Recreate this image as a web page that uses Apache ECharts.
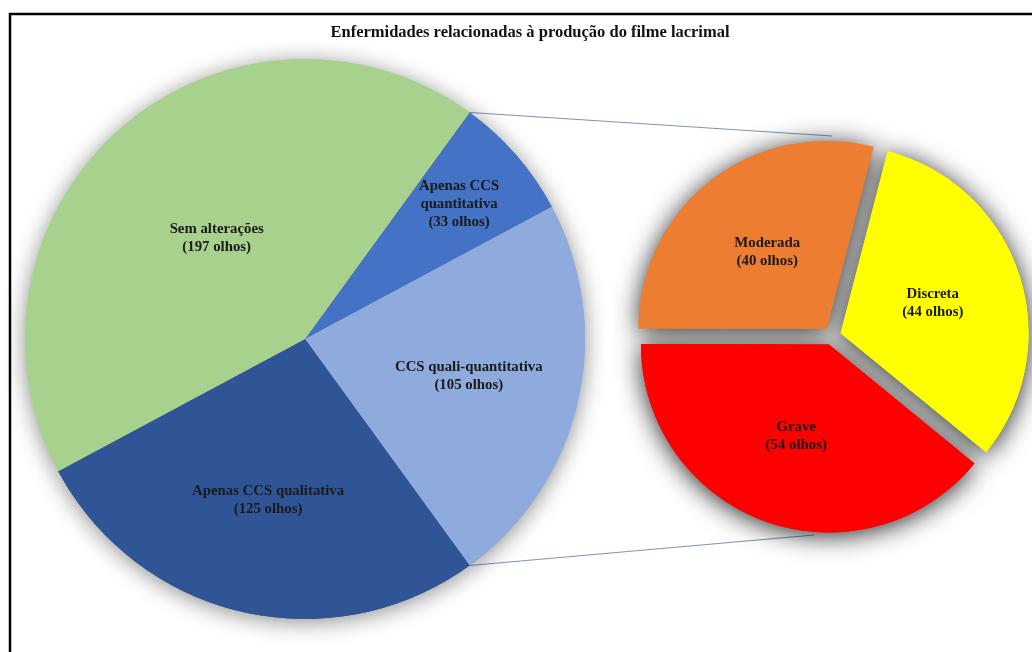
<!DOCTYPE html>
<html>
<head>
<meta charset="utf-8">
<script src="https://cdn.jsdelivr.net/npm/echarts@6/dist/echarts.min.js"></script>
<style>
  html, body { margin: 0; padding: 0; background: #ffffff; }
  #chart { width: 1032px; height: 652px; }
</style>
</head>
<body>
<div id="chart"></div>
<script>
// Main pie: eyes grouped by tear film exam result
const mainNames = ['Apenas CCS\nquantitativa', 'CCS quali-quantitativa', 'Apenas CCS qualitativa', 'Sem alterações'];
const mainValues = [33, 105, 125, 197];
const mainColors = ['#4472c4', '#8faadc', '#2f5597', '#a9d18e'];
// how many of the first main slices are broken down in the secondary pie
const splitCount = 2;

// Secondary pie: severity of the split group
const subNames = ['Discreta', 'Grave', 'Moderada'];
const subValues = [44, 54, 40];
const subColors = ['#ffff00', '#ff0000', '#ed7d31'];

const titleText = 'Enfermidades relacionadas à produção do filme lacrimal';

// Layout
const MAIN_C = [305, 339], MAIN_R = 280;
const SUB_C = [832, 336], SUB_R = 188, SUB_OFFSET = 9, SUB_START = 75.5;
// radial position of each main label, as a fraction of the radius
const mainLabelFrac = [0.73, 0.60, 0.59, 0.48];
const FONT = '"Liberation Serif", "Times New Roman", serif';
const TEXT_COLOR = '#1a1a1a';

const total = mainValues.reduce((a, b) => a + b, 0);
const splitSum = mainValues.slice(0, splitCount).reduce((a, b) => a + b, 0);
const splitAngle = splitSum / total * 360;
// split group is centred on the 3 o'clock direction
const mainStart = splitAngle / 2;

// mid angle (math degrees) of each main slice
const mainMid = [];
{
  let a = mainStart;
  mainValues.forEach(v => {
    const span = v / total * 360;
    mainMid.push(a - span / 2);
    a -= span;
  });
}
const rad = d => d * Math.PI / 180;

const mainData = mainValues.map((v, i) => ({ name: mainNames[i], value: v }));
const subData = subValues.map((v, i) => ({ name: subNames[i], value: v, selected: true }));

const labelStyle = {
  show: true,
  position: 'inside',
  formatter: p => p.name + '\n(' + p.value + ' olhos)',
  fontFamily: FONT,
  fontWeight: 'bold',
  fontSize: 14.8,
  lineHeight: 18,
  color: TEXT_COLOR
};

// connector lines from the split group's edges to the secondary pie
const topA = rad(mainStart), botA = rad(mainStart - splitAngle);
const pTop = [MAIN_C[0] + MAIN_R * Math.cos(topA), MAIN_C[1] - MAIN_R * Math.sin(topA)];
const pBot = [MAIN_C[0] + MAIN_R * Math.cos(botA), MAIN_C[1] - MAIN_R * Math.sin(botA)];
const qTop = [SUB_C[0], SUB_C[1] - SUB_R - 12];
const qBot = [SUB_C[0] - 18, SUB_C[1] + SUB_R + 11];

const chart = echarts.init(document.getElementById('chart'), null, { renderer: 'canvas' });

chart.setOption({
  animation: false,
  backgroundColor: '#ffffff',
  graphic: [
    {
      type: 'rect', z: 0,
      shape: { x: 10, y: 14, width: 1100, height: 700 },
      style: { fill: 'none', stroke: '#000000', lineWidth: 2.5 }
    },
    {
      type: 'text', z: 10,
      style: {
        text: titleText, x: 530, y: 33,
        textAlign: 'center', textVerticalAlign: 'middle',
        font: 'bold 16.5px ' + FONT, fill: '#111111'
      }
    },
    {
      type: 'line', z: 0,
      shape: { x1: pTop[0], y1: pTop[1], x2: qTop[0], y2: qTop[1] },
      style: { stroke: '#7f93b4', lineWidth: 1 }
    },
    {
      type: 'line', z: 0,
      shape: { x1: pBot[0], y1: pBot[1], x2: qBot[0], y2: qBot[1] },
      style: { stroke: '#7f93b4', lineWidth: 1 }
    }
  ],
  series: [
    // soft shadow under the main pie
    {
      type: 'pie', silent: true, z: 1,
      center: MAIN_C, radius: MAIN_R, startAngle: mainStart,
      color: mainColors, data: mainData,
      label: { show: false }, labelLine: { show: false },
      itemStyle: { shadowBlur: 22, shadowColor: 'rgba(0,0,0,0.45)', shadowOffsetY: 3 }
    },
    {
      type: 'pie', z: 2,
      center: MAIN_C, radius: MAIN_R, startAngle: mainStart,
      color: mainColors, data: mainData,
      label: labelStyle, labelLine: { show: false },
      emphasis: { disabled: true },
      labelLayout: p => {
        const i = p.dataIndex;
        const a = rad(mainMid[i]);
        const r = MAIN_R * mainLabelFrac[i];
        return {
          x: MAIN_C[0] + r * Math.cos(a),
          y: MAIN_C[1] - r * Math.sin(a),
          align: 'center', verticalAlign: 'middle'
        };
      }
    },
    // darker shadow under the exploded secondary pie
    {
      type: 'pie', silent: true, z: 1,
      center: SUB_C, radius: SUB_R, startAngle: SUB_START,
      selectedMode: 'multiple', selectedOffset: SUB_OFFSET,
      color: subColors, data: subData,
      label: { show: false }, labelLine: { show: false },
      itemStyle: { shadowBlur: 26, shadowColor: 'rgba(0,0,0,0.85)', shadowOffsetY: 3 }
    },
    {
      type: 'pie', z: 2,
      center: SUB_C, radius: SUB_R, startAngle: SUB_START,
      selectedMode: 'multiple', selectedOffset: SUB_OFFSET,
      color: subColors, data: subData,
      label: labelStyle, labelLine: { show: false },
      emphasis: { disabled: true }
    }
  ]
});
</script>
</body>
</html>
